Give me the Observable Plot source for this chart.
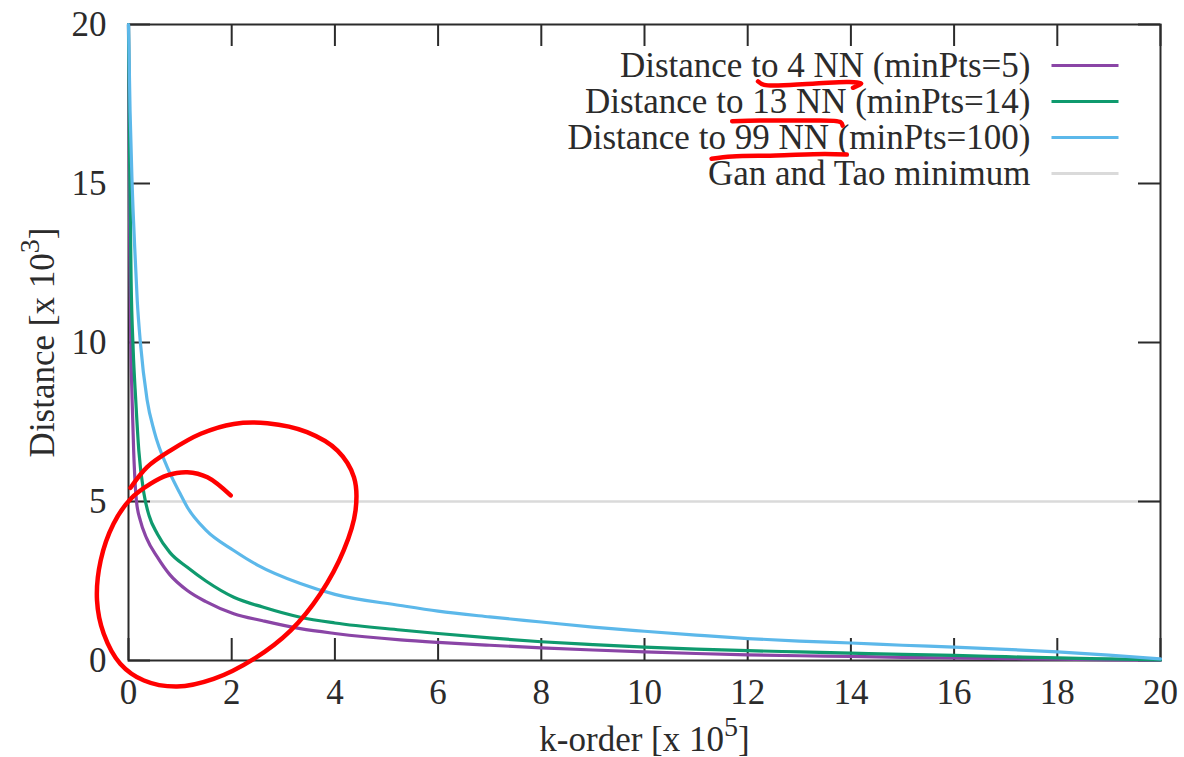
<!DOCTYPE html>
<html>
<head>
<meta charset="utf-8">
<script src="https://cdn.jsdelivr.net/npm/d3@7"></script>
<script src="https://cdn.jsdelivr.net/npm/@observablehq/plot@0.6"></script>
<style>
  html, body { margin: 0; padding: 0; background: #fff; }
  #chart svg { display: block; }
</style>
</head>
<body>
<div id="chart"></div>
<script>
// ---------- data ----------
const seriesNames = [
  "Distance to 4 NN (minPts=5)",
  "Distance to 13 NN (minPts=14)",
  "Distance to 99 NN (minPts=100)",
  "Gan and Tao minimum"
];
const seriesColors = ["#8a45a6", "#0f9a6e", "#5cb8ea", "#dadada"];

const kOrder5 = [0, 0.02, 0.04, 0.07, 0.1, 0.155, 0.23, 0.35, 0.56, 0.8, 1.14, 1.5, 2.04, 2.6, 3.33, 4.0, 5.27, 6, 7, 8, 9, 10, 11, 12, 13, 14, 15, 16, 17, 18, 19, 20];
const dist5   = [20, 14, 10.5, 8.2, 6.6, 5.0, 4.4, 3.85, 3.25, 2.7, 2.2, 1.85, 1.47, 1.25, 1.0, 0.85, 0.65, 0.57, 0.48, 0.40, 0.33, 0.27, 0.22, 0.18, 0.15, 0.13, 0.10, 0.08, 0.06, 0.04, 0.02, 0.01];

const kOrder14 = [0, 0.02, 0.05, 0.09, 0.14, 0.2, 0.3, 0.4, 0.56, 0.8, 1.14, 1.5, 2.04, 2.6, 3.33, 4, 5.27, 6, 7, 8, 9, 10, 11, 12, 13, 14, 15, 16, 17, 18, 19, 20];
const dist14   = [20, 16, 12, 9.8, 8.2, 6.6, 5.24, 4.55, 3.98, 3.4, 2.93, 2.5, 1.99, 1.68, 1.36, 1.18, 0.96, 0.85, 0.71, 0.59, 0.5, 0.42, 0.36, 0.31, 0.27, 0.23, 0.19, 0.16, 0.12, 0.08, 0.05, 0.02];

const kOrder100 = [0, 0.03, 0.07, 0.12, 0.17, 0.23, 0.36, 0.5, 0.75, 1.0, 1.14, 1.5, 2.04, 2.5, 3.33, 4, 5.27, 6, 7, 8, 9, 10, 11, 12, 13, 14, 15, 16, 17, 18, 19, 20];
const dist100   = [20, 17.3, 15, 13, 11.3, 10, 8.2, 7.2, 6.08, 5.25, 4.82, 4.1, 3.46, 3.0, 2.42, 2.08, 1.73, 1.55, 1.37, 1.21, 1.05, 0.92, 0.8, 0.69, 0.61, 0.55, 0.48, 0.42, 0.35, 0.27, 0.17, 0.05];

const ganTaoMinimum = 5;

const xTicks = [0, 2, 4, 6, 8, 10, 12, 14, 16, 18, 20];
const yTicks = [0, 5, 10, 15, 20];
const xLabel = "k-order [x 10^5]";
const yLabel = "Distance [x 10^3]";

// hand-drawn red annotations (data coordinates)
const spiralStroke = [[1.98,5.19],[1.53,5.76],[1.14,5.92],[0.75,5.82],[0.43,5.56],[0.04,5.08],[-0.29,4.30],[-0.54,3.14],[-0.61,1.89],[-0.48,0.84],[-0.16,-0.10],[0.30,-0.63],[0.94,-0.82],[1.65,-0.58],[2.43,0.05],[3.14,0.94],[3.72,2.10],[4.17,3.46],[4.40,4.72],[4.37,5.76],[4.05,6.60],[3.46,7.18],[2.69,7.46],[2.04,7.44],[1.40,7.13],[0.81,6.60],[0.36,6.08],[0.04,5.43]];
const underline4NN  = [[12.20,18.21],[12.32,18.10],[13.26,18.14],[13.96,18.19],[14.20,18.14],[14.04,18.01]];
const underline13NN = [[11.70,16.96],[12.24,16.98],[13.02,16.98],[13.80,16.93],[13.84,16.82]];
const underline99NN = [[11.30,15.78],[11.70,15.85],[12.55,15.88],[13.49,15.93],[13.92,15.91]];

// ---------- layout ----------
const W = 1184, H = 757;
const mL = 128, mR = 24, mT = 24, mB = 97;
const innerW = W - mL - mR, innerH = H - mT - mB;
const FONT = "'Liberation Serif', 'Times New Roman', serif";
const FS = 35;
const ink = "#2b2b2b";
const tickLen = 22;
const xd = px => (px - mL) / innerW * 20;
const yd = py => (H - mB - py) / innerH * 20;

const curves = [
  {x: kOrder5, y: dist5},
  {x: kOrder14, y: dist14},
  {x: kOrder100, y: dist100}
].flatMap((s, i) => s.x.map((x, j) => ({x, y: s.y[j], s: i})));

const legendRowsPx = [65, 101, 137, 173];
const legend = seriesNames.map((name, i) => ({
  name, color: seriesColors[i],
  tx: xd(1030), ty: yd(legendRowsPx[i]),
  x1: xd(1051), x2: xd(1118)
}));

const strokes = [spiralStroke, underline4NN, underline13NN, underline99NN]
  .flatMap((pts, i) => pts.map(([x, y]) => ({x, y, g: i})));

const plot = Plot.plot({
  width: W, height: H,
  marginLeft: mL, marginRight: mR, marginTop: mT, marginBottom: mB,
  style: {fontFamily: FONT, fontSize: FS + "px", color: ink, background: "#fff"},
  x: {domain: [0, 20], axis: null},
  y: {domain: [0, 20], axis: null},
  marks: [
    Plot.ruleY([ganTaoMinimum], {stroke: seriesColors[3], strokeWidth: 2.5}),
    Plot.frame({stroke: ink, strokeWidth: 2}),
    Plot.tickX(xTicks, {x: d => d, insetTop: innerH - tickLen, stroke: ink, strokeWidth: 2}),
    Plot.tickX(xTicks, {x: d => d, insetBottom: innerH - tickLen, stroke: ink, strokeWidth: 2}),
    Plot.tickY(yTicks, {y: d => d, insetRight: innerW - tickLen, stroke: ink, strokeWidth: 2}),
    Plot.tickY(yTicks, {y: d => d, insetLeft: innerW - tickLen, stroke: ink, strokeWidth: 2}),
    Plot.axisX({ticks: xTicks, tickSize: 0, tickPadding: 19, label: null, fontSize: FS, tickFormat: d => String(d)}),
    Plot.axisY({ticks: yTicks, tickSize: 0, tickPadding: 22, label: null, fontSize: FS, tickFormat: d => String(d)}),
    Plot.line(curves, {x: "x", y: "y", z: "s", stroke: d => seriesColors[d.s], strokeWidth: 3.2, curve: "monotone-x"}),
    Plot.text(legend, {x: "tx", y: "ty", text: "name", textAnchor: "end", lineAnchor: "middle", fontSize: FS, fill: ink}),
    Plot.link(legend, {x1: "x1", x2: "x2", y1: "ty", y2: "ty", stroke: "color", strokeWidth: 3}),
    Plot.text([xLabel], {frameAnchor: "bottom", text: d => d, textAnchor: "middle", lineAnchor: "bottom", dy: 90, fontSize: FS, fill: ink}),
    Plot.text([yLabel], {frameAnchor: "left", text: d => d, rotate: -90, textAnchor: "middle", lineAnchor: "middle", dx: -86, fontSize: FS, fill: ink}),
    Plot.line(strokes, {x: "x", y: "y", z: "g", stroke: "#ff0000", strokeWidth: 4.5, curve: "catmull-rom", strokeLinecap: "round", strokeLinejoin: "round"})
  ]
});

// superscripts
d3.select(plot).selectAll("text").each(function() {
  const t = this.textContent;
  const m = /^(.*)\^(\w)(.*)$/.exec(t);
  if (!m || this.querySelector("tspan")) return;
  this.textContent = "";
  const sel = d3.select(this);
  sel.append("tspan").text(m[1]);
  sel.append("tspan").attr("dy", -15).attr("font-size", FS * 0.8).text(m[2]);
  sel.append("tspan").attr("dy", 15).text(m[3]);
});

document.getElementById("chart").appendChild(plot);
</script>
</body>
</html>
